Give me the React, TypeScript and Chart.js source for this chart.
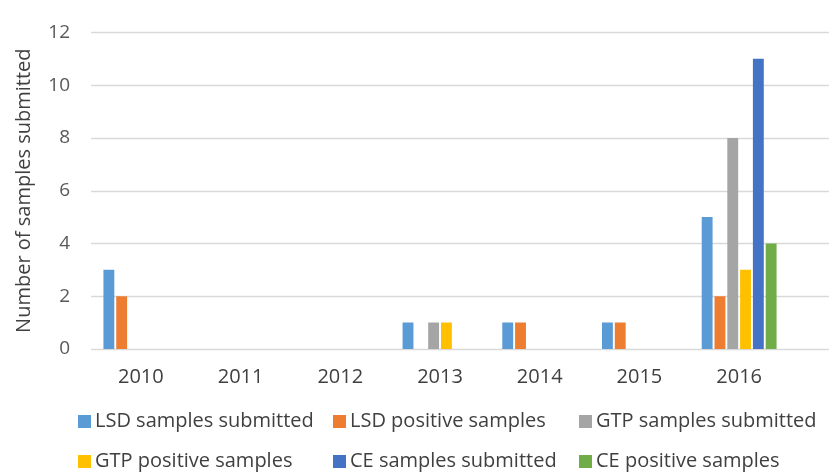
import React, { useEffect, useRef } from "react";
import { Chart, registerables } from "chart.js";

Chart.register(...registerables);

const years = ["2010", "2011", "2012", "2013", "2014", "2015", "2016"];
const lsdSubmitted = [3, 0, 0, 1, 1, 1, 5];
const lsdPositive = [2, 0, 0, 0, 1, 1, 2];
const gtpSubmitted = [0, 0, 0, 1, 0, 0, 8];
const gtpPositive = [0, 0, 0, 1, 0, 0, 3];
const ceSubmitted = [0, 0, 0, 0, 0, 0, 11];
const cePositive = [0, 0, 0, 0, 0, 0, 4];
const yTicks = [0, 2, 4, 6, 8, 10, 12];

const FONT = "'Open Sans', 'Noto Sans', sans-serif";
const LEGEND_COL_X = [78, 333, 579];
const LEGEND_ROW_Y = [421.5, 461.5];

const gridPlugin = {
  id: "extGrid",
  beforeDatasetsDraw(chart: any) {
    const { ctx, chartArea, scales } = chart;
    const y = scales.y;
    ctx.save();
    ctx.strokeStyle = "#d9d9d9";
    ctx.lineWidth = 1.3;
    y.ticks.forEach((t: any) => {
      const py = Math.round(y.getPixelForValue(t.value)) + 0.5;
      ctx.beginPath();
      ctx.moveTo(chartArea.left, py);
      ctx.lineTo(chart.width, py);
      ctx.stroke();
    });
    ctx.restore();
  },
};

const legendPlugin = {
  id: "colLegend",
  afterDraw(chart: any) {
    const ctx = chart.ctx;
    ctx.save();
    ctx.font = `20px ${FONT}`;
    ctx.textBaseline = "middle";
    ctx.textAlign = "left";
    chart.data.datasets.forEach((ds: any, i: number) => {
      const x = LEGEND_COL_X[i % 3];
      const y = LEGEND_ROW_Y[Math.floor(i / 3)];
      ctx.fillStyle = ds.backgroundColor;
      ctx.fillRect(x, y - 6.5, 13, 13);
      ctx.fillStyle = "#404040";
      ctx.fillText(ds.label, x + 17, y);
    });
    ctx.restore();
  },
};

export default function App() {
  const ref = useRef<HTMLCanvasElement | null>(null);
  useEffect(() => {
    if (!ref.current) return;
    const chart = new Chart(ref.current, {
      type: "bar",
      data: {
        labels: years,
        datasets: [
          { label: "LSD samples submitted", data: lsdSubmitted, backgroundColor: "#5B9BD5" },
          { label: "LSD positive samples", data: lsdPositive, backgroundColor: "#ED7D31" },
          { label: "GTP samples submitted", data: gtpSubmitted, backgroundColor: "#A5A5A5" },
          { label: "GTP positive samples", data: gtpPositive, backgroundColor: "#FFC000" },
          { label: "CE samples submitted", data: ceSubmitted, backgroundColor: "#4472C4" },
          { label: "CE positive samples", data: cePositive, backgroundColor: "#70AD47" },
        ],
      },
      options: {
        responsive: false,
        animation: false,
        devicePixelRatio: 1,
        datasets: { bar: { categoryPercentage: 0.77, barPercentage: 0.85 } },
        layout: { padding: { top: 18, right: 40, bottom: 0, left: 0 } },
        plugins: { legend: { display: false }, tooltip: { enabled: false } },
        scales: {
          x: {
            grid: { display: false, drawTicks: false },
            border: { display: false },
            ticks: { padding: 16, color: "#404040", font: { family: FONT, size: 20 } },
            afterFit: (s: any) => { s.height = 123; },
          },
          y: {
            min: 0,
            max: 12,
            afterBuildTicks: (s: any) => { s.ticks = yTicks.map((v) => ({ value: v })); },
            grid: { display: false, drawTicks: false },
            border: { display: false },
            ticks: { padding: 21, color: "#595959", font: { family: FONT, size: 19 } },
            title: {
              display: true,
              text: "Number of samples submitted",
              color: "#404040",
              font: { family: FONT, size: 20 },
              padding: { top: 12, bottom: 0 },
            },
            afterFit: (s: any) => { s.width = 91; },
          },
        },
      },
      plugins: [gridPlugin, legendPlugin],
    });
    return () => chart.destroy();
  }, []);
  return (
    <div style={{ position: "absolute", left: 0, top: 0, width: 829, height: 472, background: "#fff" }}>
      <canvas ref={ref} width={829} height={472} style={{ display: "block" }} />
    </div>
  );
}
